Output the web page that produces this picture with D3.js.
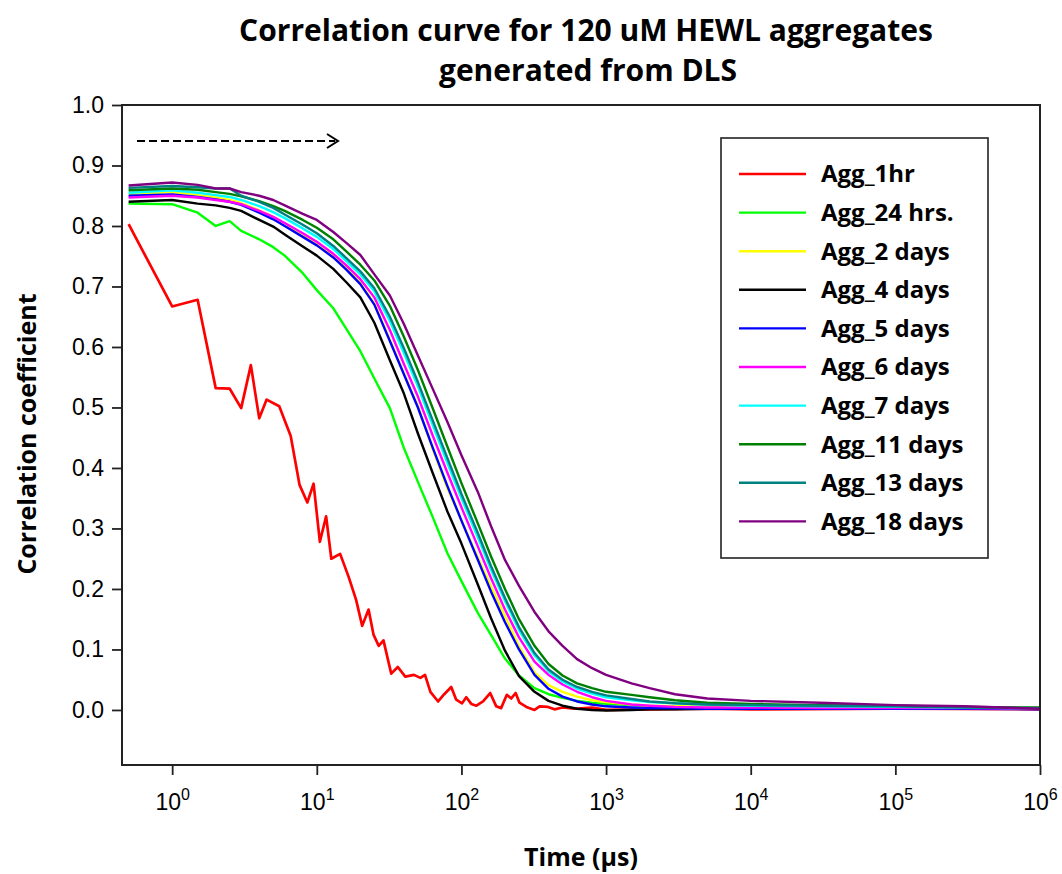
<!DOCTYPE html>
<meta charset="utf-8">
<style>
  body { margin: 0; background: #fff; }
  .title { font-family: "Open Sans", sans-serif; font-weight: 700; font-size: 30px; }
  .lab { font-family: "Open Sans", sans-serif; font-weight: 700; font-size: 25px; }
  .tick text { font-family: "Liberation Sans", Arial, sans-serif; font-size: 23px; fill: #000; }
  .legend text { font-family: "Open Sans", sans-serif; font-weight: 700; font-size: 24px; }
</style>
<body>
<script src="https://cdnjs.cloudflare.com/ajax/libs/d3/7.8.5/d3.min.js"></script>
<script>
// delay times (us) shared by the smooth curves
var times = [0.5, 1, 1.5, 2, 2.5, 3, 4, 5, 6, 8, 10, 13, 16, 20, 25, 32, 40, 50, 63, 80, 100, 130, 160, 200, 250, 320, 400, 500, 630, 800, 1000, 1500, 2000, 3000, 5000, 10000, 30000, 100000, 300000, 1000000];

var agg24h  = [.837, .836, .822, .800, .808, .792, .778, .765, .751, .722, .694, .664, .630, .593, .548, .499, .433, .377, .320, .259, .213, .160, .124, .085, .057, .036, .026, .020, .015, .012, .010, .008, .006, .005, .005, .004, .004, .003, .003, .003];
var agg2d   = [.853, .856, .851, .847, .843, .838, .826, .815, .804, .786, .772, .751, .731, .706, .672, .612, .556, .502, .432, .366, .313, .252, .204, .155, .105, .062, .041, .030, .022, .016, .013, .009, .007, .006, .005, .004, .004, .004, .003, .003];
var agg4d   = [.840, .843, .837, .834, .830, .825, .810, .799, .786, .766, .751, .729, .707, .682, .640, .578, .523, .457, .393, .328, .275, .207, .152, .098, .056, .030, .015, .007, .002, .000, -.001, .000, .001, .001, .002, .002, .003, .003, .002, .002];
var agg5d   = [.850, .852, .848, .844, .840, .835, .822, .811, .800, .782, .768, .748, .728, .704, .670, .610, .555, .500, .435, .370, .313, .248, .196, .145, .100, .058, .035, .022, .014, .009, .006, .004, .003, .003, .002, .002, .002, .002, .002, .001];
var agg6d   = [.847, .850, .847, .843, .840, .836, .825, .815, .805, .788, .774, .754, .735, .712, .682, .628, .572, .518, .455, .392, .335, .270, .218, .166, .120, .080, .058, .042, .030, .021, .015, .009, .007, .005, .004, .004, .003, .003, .003, .002];
var agg7d   = [.855, .859, .855, .851, .848, .843, .833, .823, .813, .796, .782, .762, .742, .720, .692, .643, .590, .535, .472, .408, .350, .285, .232, .180, .132, .090, .064, .047, .035, .027, .021, .016, .013, .011, .009, .007, .006, .005, .004, .003];
var agg11d  = [.859, .862, .860, .856, .853, .849, .841, .833, .825, .810, .797, .778, .758, .736, .710, .668, .617, .562, .500, .435, .375, .308, .254, .200, .150, .106, .076, .057, .044, .036, .030, .025, .021, .016, .012, .010, .008, .007, .005, .004];
var agg13d  = [.863, .866, .864, .862, .862, .850, .840, .830, .819, .802, .788, .767, .747, .725, .697, .650, .598, .542, .480, .416, .357, .292, .238, .185, .137, .094, .067, .050, .038, .030, .024, .018, .014, .011, .009, .008, .007, .006, .004, .003];
var agg18d  = [.867, .872, .868, .862, .862, .856, .850, .843, .834, .820, .810, .790, .772, .752, .720, .685, .638, .586, .532, .476, .421, .360, .304, .248, .205, .162, .130, .106, .084, .069, .058, .044, .036, .026, .019, .015, .012, .008, .006, .002];

// the 1 hr curve is noisy, so it keeps its own times
var times1h = [0.5, 1, 1.5, 2, 2.5, 3, 3.5, 4, 4.5, 5.5, 6.6, 7.6, 8.6, 9.5, 10.5, 11.6, 12.6, 14.5, 16.6, 18.7, 20.6, 22.8, 24.7, 26.8, 28.9, 32.7, 36.3, 40.9, 47, 52, 56, 61, 69, 76, 85, 92, 101, 108, 117, 127, 141, 158, 174, 188, 206, 221, 237, 252, 281, 320, 347, 396, 440, 500, 600, 800, 1000, 2000, 5000, 10000, 100000, 1000000];
var agg1h   = [.803, .667, .678, .532, .531, .499, .570, .482, .513, .502, .453, .372, .343, .374, .278, .320, .250, .258, .220, .182, .139, .166, .124, .106, .115, .060, .071, .055, .058, .053, .058, .030, .014, .026, .038, .017, .011, .021, .010, .007, .014, .028, .006, .003, .025, .019, .028, .012, .005, .000, .006, .005, .001, .004, .002, .004, .000, .001, .002, .001, .002, .001];

var names  = ["Agg_1hr", "Agg_24 hrs.", "Agg_2 days", "Agg_4 days", "Agg_5 days", "Agg_6 days", "Agg_7 days", "Agg_11 days", "Agg_13 days", "Agg_18 days"];
var colors = ["#ff0000", "#00ff00", "#ffff00", "#000000", "#0000ff", "#ff00ff", "#00ffff", "#008000", "#008080", "#800080"];
var yTicks = [0, 0.1, 0.2, 0.3, 0.4, 0.5, 0.6, 0.7, 0.8, 0.9, 1.0];
var xTicks = [1, 10, 100, 1000, 10000, 100000, 1000000];

var series = [
  {t: times1h, v: agg1h}, {t: times, v: agg24h}, {t: times, v: agg2d}, {t: times, v: agg4d},
  {t: times, v: agg5d}, {t: times, v: agg6d}, {t: times, v: agg7d}, {t: times, v: agg11d},
  {t: times, v: agg13d}, {t: times, v: agg18d}
];

var W = 1062, H = 874;
var pL = 122, pR = 1040, pT = 105, pB = 765;

var svg = d3.select("body").append("svg").attr("width", W).attr("height", H);

var x = d3.scaleLog().domain([0.45, 1e6]).range([pL, pR]);
var y = d3.scaleLinear().domain([-0.091, 1.0]).range([pB, pT]);

svg.append("defs").append("clipPath").attr("id", "clip")
  .append("rect").attr("x", pL).attr("y", pT).attr("width", pR - pL).attr("height", pB - pT);

// title
svg.append("text").attr("class", "title").attr("x", 586).attr("y", 41).attr("text-anchor", "middle")
  .text("Correlation curve for 120 uM HEWL aggregates");
svg.append("text").attr("class", "title").attr("x", 588).attr("y", 81).attr("text-anchor", "middle")
  .text("generated from DLS");

// curves
var line = d3.line().x(function(d) { return x(d[0]); }).y(function(d) { return y(d[1]); });
svg.append("g").attr("clip-path", "url(#clip)")
  .selectAll("path").data(series).enter().append("path")
  .attr("d", function(s) { return line(s.t.map(function(t, i) { return [t, s.v[i]]; })); })
  .attr("fill", "none")
  .attr("stroke", function(s, i) { return colors[i]; })
  .attr("stroke-width", function(s, i) { return i == 0 ? 2.7 : 2.4; })
  .attr("stroke-linejoin", "round");

// axes
var yAxis = d3.axisLeft(y).tickValues(yTicks).tickSize(10).tickPadding(8).tickFormat(d3.format(".1f"));
var gy = svg.append("g").attr("transform", "translate(" + pL + ",0)").call(yAxis);
var xAxis = d3.axisBottom(x).tickValues(xTicks).tickSize(10).tickFormat("");
var gx = svg.append("g").attr("transform", "translate(0," + pB + ")").call(xAxis);
gx.selectAll(".tick").append("text")
  .attr("y", 45).attr("text-anchor", "middle")
  .each(function(d) {
    var t = d3.select(this);
    t.append("tspan").text("10");
    t.append("tspan").attr("dy", -10).attr("font-size", "16px").text(Math.round(Math.log10(d)));
  });
svg.selectAll(".domain").remove();
svg.selectAll(".tick line").attr("stroke", "#222").attr("stroke-width", 1.8);

// frame
svg.append("rect").attr("x", pL).attr("y", pT).attr("width", pR - pL).attr("height", pB - pT)
  .attr("fill", "none").attr("stroke", "#222").attr("stroke-width", 2);

// axis labels
svg.append("text").attr("class", "lab").attr("text-anchor", "middle")
  .attr("transform", "translate(36,434) rotate(-90)").text("Correlation coefficient");
svg.append("text").attr("class", "lab").attr("text-anchor", "middle")
  .attr("x", 581).attr("y", 866).text("Time (\u00b5s)");

// dashed arrow
svg.append("line").attr("x1", 137).attr("y1", 141).attr("x2", 335).attr("y2", 141)
  .attr("stroke", "#000").attr("stroke-width", 2.2).attr("stroke-dasharray", "8,4");
svg.append("path").attr("d", "M327,134 L338,141 L327,148")
  .attr("fill", "none").attr("stroke", "#000").attr("stroke-width", 2);

// legend
var lg = svg.append("g").attr("class", "legend");
lg.append("rect").attr("x", 721).attr("y", 138).attr("width", 267).attr("height", 420)
  .attr("fill", "#fff").attr("stroke", "#222").attr("stroke-width", 1.6);
var item = lg.selectAll("g.item").data(names).enter().append("g")
  .attr("transform", function(d, i) { return "translate(0," + (174 + i * 38.6) + ")"; });
item.append("line").attr("x1", 739).attr("x2", 806)
  .attr("stroke", function(d, i) { return colors[i]; }).attr("stroke-width", 2.4);
item.append("text").attr("x", 821).attr("dy", "0.35em").text(function(d) { return d; });
</script>
</body>
